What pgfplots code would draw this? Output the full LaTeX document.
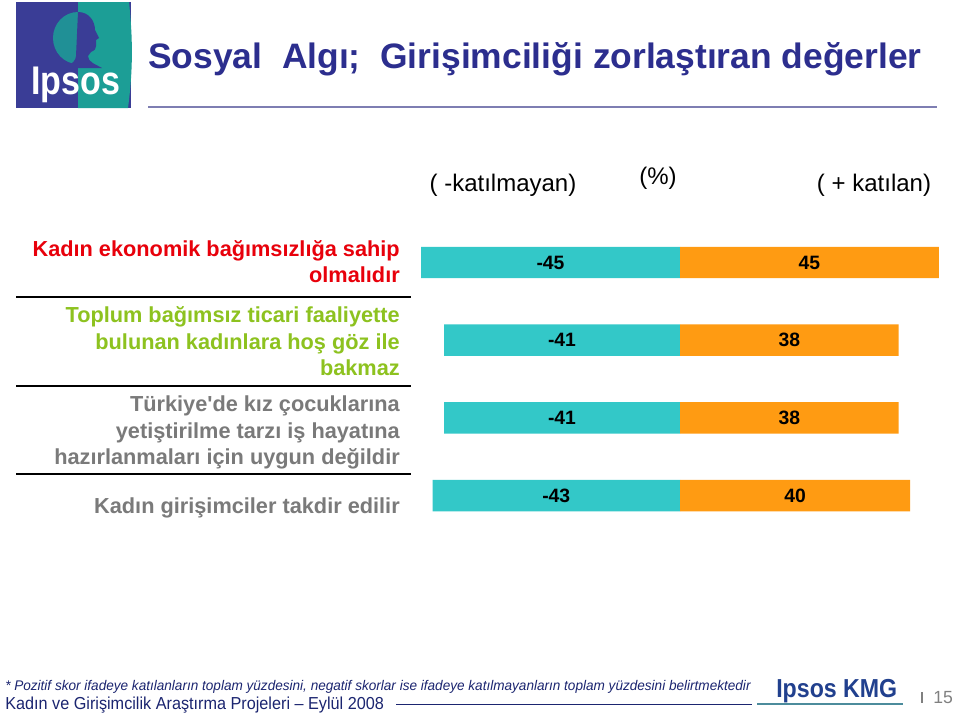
\documentclass[border=0pt]{standalone}
\usepackage{fontspec}
\setmainfont{Liberation Sans}[Ligatures=TeXOff]
\usepackage{graphicx}
\usepackage{pgfplots}
\pgfplotsset{compat=1.18}
\usepackage{pgfplotstable}

\definecolor{tealbar}{HTML}{33C8C8}
\definecolor{orangebar}{HTML}{FF9B12}
\definecolor{titleblue}{HTML}{2C2E8E}
\definecolor{ruleblue}{HTML}{7E7EB2}
\definecolor{ipsosblue}{HTML}{3A3D96}
\definecolor{ipsosteal}{HTML}{1C9E96}
\definecolor{lblred}{HTML}{E8000B}
\definecolor{lblgreen}{HTML}{8DC21F}
\definecolor{lblgray}{HTML}{7A7A7A}
\definecolor{navy}{HTML}{1B2570}
\definecolor{kmgblue}{HTML}{21408E}
\definecolor{kmgline}{HTML}{4C8C9C}

% disagree (negative) and agree (positive) shares, category 0 at the top
\pgfplotstableread{
i neg pos
0 -45 45
1 -41 38
2 -41 38
3 -43 40
}\scores

\begin{document}
\begin{tikzpicture}
\begin{scope}[x=0.75pt, y=-0.75pt]
\fill[white] (0,0) rectangle (960,714);

% Ipsos logo
\fill[ipsosblue] (16,2) rectangle (131,108);
\fill[ipsosteal] (78,2) -- (129,2) .. controls (133,40) and (133,70) .. (128,108) -- (78,108) -- cycle;
\begin{scope}
  \clip (40,0) rectangle (78,80);
  \fill[ipsosteal!85!ipsosblue] (78,38) ellipse [x radius=25, y radius=26];
\end{scope}
\fill[ipsosblue] (78,12) .. controls (89,12) and (95,21) .. (95,30) -- (99,38) -- (96,40)
  -- (96,46) .. controls (95,50) .. (91,52) -- (88,56) .. controls (88,62) and (95,64) .. (102,68)
  -- (66,68) .. controls (72,64) and (76,60) .. (76,56) -- cycle;
\node[anchor=base west, white, inner sep=0pt] at (31,94)
  {\scalebox{0.85}[1]{\bfseries\fontsize{30}{30}\selectfont Ipsos}};

% title and rule
\node[anchor=base west, inner sep=0pt, text=titleblue] at (148,68)
  {\resizebox{580pt}{\height}{\bfseries\fontsize{26.5}{30}\selectfont Sosyal\ \ Algı;\ \ Girişimciliği zorlaştıran değerler}};
\draw[ruleblue, line width=1.5pt] (148,107) -- (937,107);

% column headings
\begin{scope}[every node/.style={anchor=base, inner sep=0pt, font=\fontsize{18}{20}\selectfont}]
\node at (503,191) {( -katılmayan)};
\node at (658,184) {(\%)};
\node at (874,191) {( + katılan)};
\end{scope}

% statements
\begin{scope}[every node/.style={anchor=base east, inner sep=0pt, font=\bfseries\fontsize{16.3}{19.7}\selectfont}]
\node[text=lblred] at (400,256.5) {Kadın ekonomik bağımsızlığa sahip};
\node[text=lblred] at (400,282) {olmalıdır};
\node[text=lblgreen] at (400,322.5) {Toplum bağımsız ticari faaliyette};
\node[text=lblgreen] at (400,349) {bulunan kadınlara hoş göz ile};
\node[text=lblgreen] at (400,375) {bakmaz};
\node[text=lblgray] at (400,411.5) {Türkiye'de kız çocuklarına};
\node[text=lblgray] at (400,438) {yetiştirilme tarzı iş hayatına};
\node[text=lblgray] at (400,464.5) {hazırlanmaları için uygun değildir};
\node[text=lblgray] at (400,513.5) {Kadın girişimciler takdir edilir};
\end{scope}
\draw[black, line width=1.5pt] (16,296.7) -- (410.7,296.7);
\draw[black, line width=1.5pt] (16,385.5) -- (410.7,385.5);
\draw[black, line width=1.5pt] (16,474.3) -- (410.7,474.3);

% footer
\node[anchor=base west, inner sep=0pt, text=navy] at (5,690.5)
  {\resizebox{559pt}{\height}{\itshape\fontsize{10.5}{12}\selectfont * Pozitif skor ifadeye katılanların toplam yüzdesini, negatif skorlar ise ifadeye katılmayanların toplam yüzdesini belirtmektedir}};
\node[anchor=base west, inner sep=0pt, text=navy] at (5,709.5)
  {\resizebox{284pt}{\height}{\fontsize{13}{15}\selectfont Kadın ve Girişimcilik Araştırma Projeleri – Eylül 2008}};
\draw[navy, line width=0.8pt] (396,704.5) -- (752,704.5);
\draw[kmgline, line width=1.2pt] (757,704) -- (903,704);
\node[anchor=base west, inner sep=0pt, text=kmgblue] at (776,697.5)
  {\resizebox{90.75pt}{\height}{\bfseries\fontsize{19.5}{22}\selectfont Ipsos KMG}};
\draw[gray, line width=0.8pt] (922,692) -- (922,703);
\node[anchor=base west, inner sep=0pt, text=gray, font=\fontsize{13.2}{15}\selectfont] at (933,703.3) {15};
\end{scope}

\begin{axis}[
  at={(315.75pt,-167.74pt)}, anchor=north west,
  scale only axis, width=388.5pt, height=233.1pt,
  xmin=-45, xmax=45, ymin=-0.5, ymax=3.5, y dir=reverse,
  hide axis, clip=false,
]
\addplot[xbar, bar shift=0pt, bar width=23.6pt, draw=none, fill=tealbar]
  table[x=neg, y=i] {\scores};
\addplot[xbar, bar shift=0pt, bar width=23.6pt, draw=none, fill=orangebar]
  table[x=pos, y=i] {\scores};
% value labels in the middle of each bar
\addplot[draw=none, mark=none, nodes near coords, point meta=explicit symbolic,
  every node near coord/.append style={anchor=center, text=black, font=\bfseries\fontsize{14.5}{16}\selectfont}]
  table[x expr=\thisrow{neg}/2, y=i, meta=neg] {\scores};
\addplot[draw=none, mark=none, nodes near coords, point meta=explicit symbolic,
  every node near coord/.append style={anchor=center, text=black, font=\bfseries\fontsize{14.5}{16}\selectfont}]
  table[x expr=\thisrow{pos}/2, y=i, meta=pos] {\scores};
\end{axis}
\end{tikzpicture}
\end{document}
